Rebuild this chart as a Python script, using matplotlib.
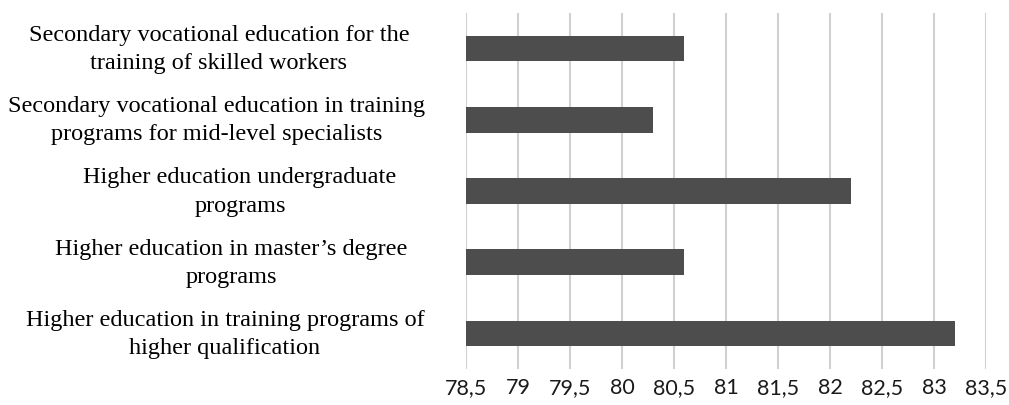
import numpy as np
import matplotlib.pyplot as plt
from matplotlib.transforms import blended_transform_factory

# data
categories = [
    "Secondary vocational education for the\ntraining of skilled workers",
    "Secondary vocational education in training\nprograms for mid-level specialists",
    "Higher education undergraduate\nprograms",
    "Higher education in master\u2019s degree\nprograms",
    "Higher education in training programs of\nhigher qualification",
]
values = [80.6, 80.3, 82.2, 80.6, 83.2]
x_ticks = [78.5, 79, 79.5, 80, 80.5, 81, 81.5, 82, 82.5, 83, 83.5]

# horizontal centre of each label, in pixels
label_x = [219, 217, 240, 231, 225]

fig = plt.figure(figsize=(10.09, 4.06), dpi=100)
ax = fig.add_axes([466 / 1009, 1 - 370 / 406, 520 / 1009, 356 / 406])

y = np.arange(len(categories))
ax.barh(y, [v - x_ticks[0] for v in values], left=x_ticks[0], height=0.36,
        color='#4d4d4d', zorder=3)

ax.set_xlim(x_ticks[0], x_ticks[-1])
ax.set_ylim(len(categories) - 0.5, -0.5)
ax.set_xticks(x_ticks)
ax.set_xticklabels([('%g' % t).replace('.', ',') for t in x_ticks],
                   fontfamily='Lato', fontsize=15.5, color='#1a1a1a')
ax.tick_params(axis='x', length=0, pad=6)
ax.set_yticks([])
ax.grid(axis='x', color='#d0d0d0', linewidth=1.5, zorder=0)
for s in ax.spines.values():
    s.set_visible(False)

trans = blended_transform_factory(fig.transFigure, ax.transData)
for i, lab in enumerate(categories):
    ax.text(label_x[i] / 1009, i, lab, transform=trans,
            ha='center', va='center', multialignment='center',
            fontfamily='Liberation Serif', fontsize=17.5, linespacing=1.45,
            color='black')

fig.savefig('out.png', dpi=100)
